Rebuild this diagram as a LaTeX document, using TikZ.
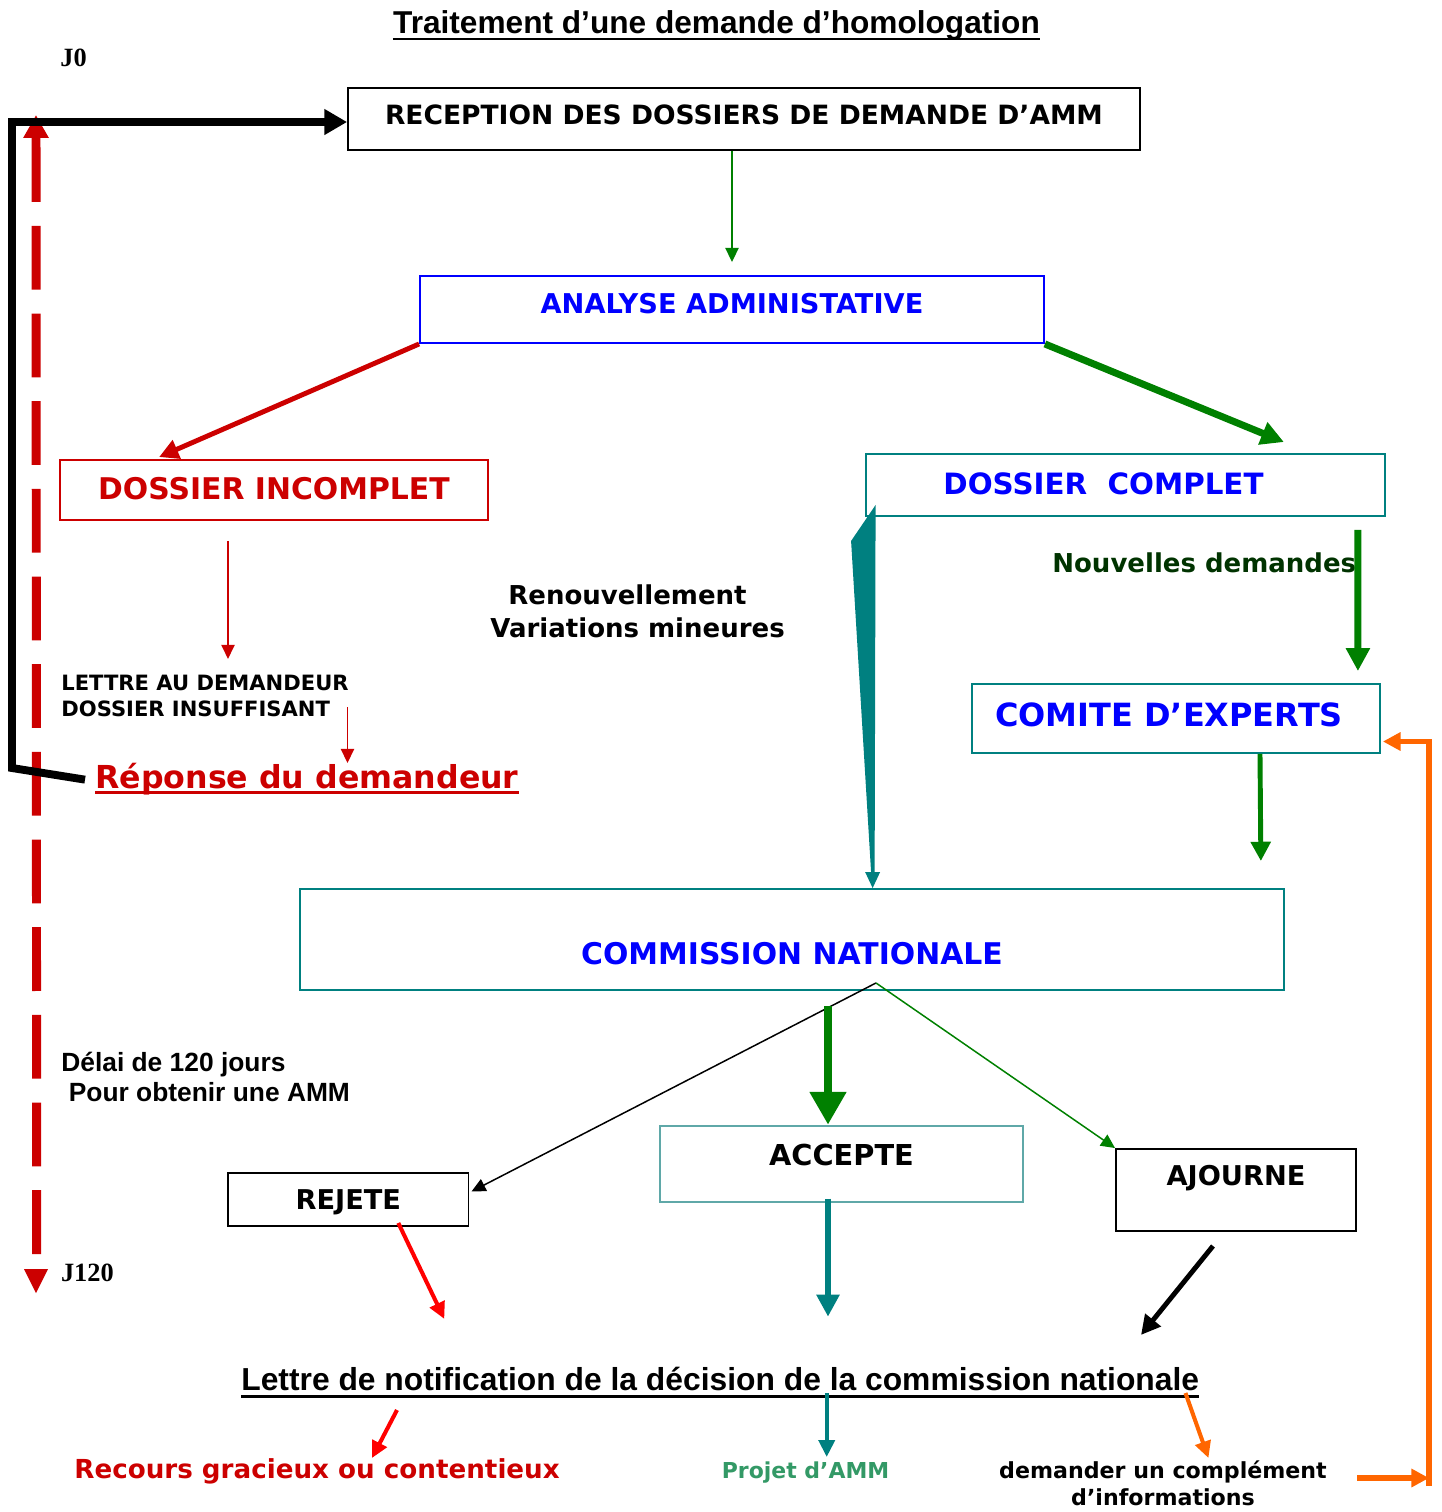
\documentclass[tikz,border=0pt]{standalone}
\usepackage{fontspec}
\setmainfont{DejaVu Sans}
\newfontfamily\arialf{Liberation Sans}
\newfontfamily\timesf{Liberation Serif}
\usetikzlibrary{arrows.meta}

\definecolor{ddred}{HTML}{CC0000}
\definecolor{ablue}{HTML}{0000FF}
\definecolor{tealc}{HTML}{008080}
\definecolor{gr}{HTML}{008000}
\definecolor{dgr}{HTML}{003300}
\definecolor{orng}{HTML}{FF6600}
\definecolor{sgreen}{HTML}{339966}
\definecolor{ltteal}{HTML}{5FA8A8}

\newcommand\sz[2]{\fontsize{#1pt}{#2pt}\selectfont}

\tikzset{
  box/.style={draw, line width=1.1pt, inner sep=0pt, text depth=0pt},
  lbl/.style={inner sep=0pt},
  arrthin/.style={line width=0.85pt, -{Triangle[length=8pt,width=7.5pt]}},
  arrmid/.style={line width=2.3pt, -{Triangle[length=9.5pt,width=9pt]}},
  arrthick/.style={line width=2.8pt, -{Triangle[length=11pt,width=11pt]}},
  arrheavy/.style={line width=4pt, -{Triangle[length=13pt,width=13pt]}}
}

\begin{document}
\begin{tikzpicture}[x=0.02cm,y=-0.02cm]
    \useasboundingbox (0,0) rectangle (1441,1512);

    % Title and time marks
    \node[lbl, anchor=base, font=\arialf\bfseries\sz{18}{22}] (title) at (716.5,33) {Traitement d’une demande d’homologation};
    \draw[line width=1.4pt] ([shift={(0,6)}]title.base west) -- ([shift={(0,6)}]title.base east);
    \node[lbl, anchor=base west, font=\timesf\bfseries\sz{15}{18}] (j0) at (60,66.7) {J0};
    \node[lbl, anchor=base west, font=\timesf\bfseries\sz{15}{18}] (j120) at (60.7,1281.7) {J120};

    % Boxes
    \node[box, minimum width=15.84cm, minimum height=1.24cm, text height=5.7pt, font=\bfseries\sz{15.1}{18}] (rec) at (744,119) {RECEPTION DES DOSSIERS DE DEMANDE D’AMM};
    \node[box, draw=ablue, text=ablue, minimum width=12.48cm, minimum height=1.34cm, text height=5.1pt, font=\bfseries\sz{15.5}{18}] (ana) at (732,309.5) {ANALYSE ADMINISTATIVE};
    \node[box, draw=ddred, text=ddred, minimum width=8.56cm, minimum height=1.2cm, text height=11.3pt, font=\bfseries\sz{17}{20}] (inc) at (274,490) {DOSSIER INCOMPLET};
    \node[box, draw=tealc, text=ablue, minimum width=10.38cm, minimum height=1.24cm, text height=11.3pt, font=\bfseries\sz{16.7}{20}] (comp) at (1125.5,485) {DOSSIER\ \ COMPLET\hspace*{0.88cm}};
    \node[box, draw=tealc, text=ablue, minimum width=8.16cm, minimum height=1.38cm, text height=9.6pt, font=\bfseries\sz{18.2}{22}] (comi) at (1176,718.5) {COMITE D’EXPERTS\hspace*{0.28cm}};
    \node[box, draw=tealc, text=ablue, minimum width=19.68cm, minimum height=2.02cm, text height=28.9pt, font=\bfseries\sz{17}{20}] (comm) at (792,939.5) {COMMISSION NATIONALE};
    \node[box, draw=ltteal, minimum width=7.26cm, minimum height=1.52cm, text height=1.5pt, font=\bfseries\sz{16.4}{20}] (acc) at (841.5,1163.7) {ACCEPTE};
    \node[box, minimum width=4.8cm, minimum height=1.64cm, text height=0pt, text depth=5.7pt, font=\bfseries\sz{15.5}{18}] (ajo) at (1236,1190) {AJOURNE};
    \node[box, minimum width=4.81cm, minimum height=1.06cm, text height=11.9pt, font=\bfseries\sz{15.5}{18}] (rej) at (348.3,1199.5) {REJETE};

    % Free texts
    \node[lbl, anchor=west, align=left, font=\bfseries\sz{12}{14.7}] (lettre) at (61,696) {LETTRE AU DEMANDEUR\\DOSSIER INSUFFISANT};
    \node[lbl, anchor=base west, text=ddred, font=\bfseries\sz{18}{22}] (rep) at (95,788) {Réponse du demandeur};
    \draw[ddred, line width=2pt] ([shift={(0,4.5)}]rep.base west) -- ([shift={(0,4.5)}]rep.base east);
    \node[lbl, anchor=west, align=left, font=\bfseries\sz{14.8}{18.7}] (renouv) at (490,611.5) {\hspace*{0.36cm}Renouvellement\\Variations mineures};
    \node[lbl, anchor=base west, text=dgr, font=\bfseries\sz{14.8}{18}] (nouv) at (1052,572.7) {Nouvelles demandes};
    \node[lbl, anchor=west, align=left, font=\arialf\bfseries\sz{15}{16.8}] (delai) at (61,1077) {Délai de 120 jours\\\hspace*{0.15cm}Pour obtenir une AMM};
    \node[lbl, anchor=base west, font=\arialf\bfseries\sz{18.1}{22}] (notif) at (241,1390) {Lettre de notification de la décision de la commission nationale};
    \draw[line width=2.2pt] ([shift={(0,6.5)}]notif.base west) -- ([shift={(0,6.5)}]notif.base east);
    \node[lbl, anchor=base west, text=ddred, font=\bfseries\sz{14.9}{18}] (recours) at (74,1478) {Recours gracieux ou contentieux};
    \node[lbl, anchor=base west, text=sgreen, font=\bfseries\sz{12.5}{15}] (projet) at (721.5,1478) {Projet d’AMM};
    \node[lbl, align=center, font=\bfseries\sz{12.6}{15.3}] (dem) at (1163,1483) {demander un complément\\d’informations};

    % Time line J0 - J120
    \draw[ddred, line width=5.1pt, dash pattern=on 36.3pt off 13.6pt, -{Triangle[length=13pt,width=13.6pt]}] ([shift={(-24,-27.7)}]j120.base west) -- ([shift={(-24,48.3)}]j0.base west);
    \fill[ddred] ([shift={(-36.7,-12.7)}]j120.base west) -- ([shift={(-12.7,-12.7)}]j120.base west) -- ([shift={(-24.7,11.3)}]j120.base west) -- cycle;

    % Return loop of the applicant
    \draw[line width=4.5pt, -{Triangle[length=13pt,width=14pt]}] ([shift={(-10,1)}]rep.west) -- (12,768) -- (12,122) -- ([shift={(0,3)}]rec.west);

    % Main flow
    \draw[gr, arrthin] (rec.south -| ana.north) -- ([shift={(0,-13)}]ana.north);
    \draw[ddred, arrthick] (ana.south west) -- ([shift={(100,-2)}]inc.north west);
    \draw[gr, arrheavy] (ana.south east) -- ([shift={(-102,-11)}]comp.north east);
    \draw[ddred, arrthin] ([shift={(-46,20)}]inc.south) -- ++(0,118);
    \draw[ddred, arrthin] ([shift={(-1.5,11)}]lettre.east) -- ++(0,56);
    \draw[gr, arrheavy] ([shift={(-28,13)}]comp.south east) -- ([shift={(-23,-12)}]comi.north east);
    \draw[gr, arrthick] ([shift={(84,0)}]comi.south) -- ([shift={(-24,-27)}]comm.north east);

    % Renewal wedge
    \fill[tealc] ([shift={(10.5,-12)}]comp.south west) -- ([shift={(-14,24)}]comp.south west)
        -- ([shift={(572,-15)}]comm.north west) -- ([shift={(575.5,-15)}]comm.north west) -- cycle;
    \fill[tealc] ([shift={(566,-16)}]comm.north west) -- ([shift={(581,-16)}]comm.north west) -- ([shift={(573.5,0)}]comm.north west) -- cycle;

    % Decisions
    \coordinate (fork) at ([shift={(84,-8)}]comm.south);
    \draw[arrthin] (fork) -- ([shift={(2,-8)}]rej.east);
    \draw[gr, arrthin] (fork) -- (ajo.north west);
    \draw[gr, line width=5.1pt, -{Triangle[length=18.7pt,width=19.8pt]}] ([shift={(36,15)}]comm.south) -- ([shift={(-13.5,0)}]acc.north);

    \draw[red, arrmid] ([shift={(50,-4)}]rej.south) -- ++(46,96);
    \draw[tealc, line width=3.4pt, -{Triangle[length=12.5pt,width=12.5pt]}] ([shift={(-13.5,-4)}]acc.south) -- ++(0,118);
    \draw[arrthick] ([shift={(-23,14)}]ajo.south) -- ++(-72,89);

    % After the letter
    \draw[red, arrmid] ([shift={(156,20)}]notif.base west) -- ++(-25,48);
    \draw[tealc, line width=2.3pt, -{Triangle[length=9.6pt,width=9pt]}] ([shift={(106.5,3)}]notif.base) -- ++(0,64);
    \draw[orng, arrmid] ([shift={(-14,3)}]notif.base east) -- ++(23,65);

    % Back to the experts
    \draw[orng, line width=3.4pt, -{Triangle[length=10pt,width=10pt]}] ([shift={(30,-5)}]dem.east) -- (1429,1478);
    \draw[orng, line width=3.4pt, -{Triangle[length=10pt,width=10pt]}] (1429,1486) |- ([shift={(2,23)}]comi.east);
\end{tikzpicture}
\end{document}
